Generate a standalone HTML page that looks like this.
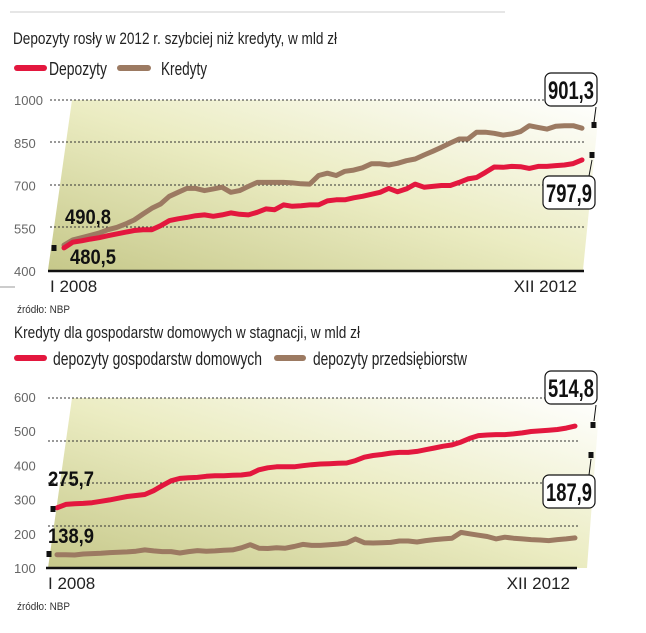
<!DOCTYPE html>
<html><head><meta charset="utf-8">
<style>
html,body{margin:0;padding:0;background:#fff;}
svg{display:block;font-family:"Liberation Sans",sans-serif;}
</style></head>
<body>
<svg id="c" width="646" height="633" viewBox="0 0 646 633">
<defs>
<linearGradient id="g" x1="0" y1="1" x2="1" y2="0">
<stop offset="0" stop-color="#c6c88a"/>
<stop offset="0.5" stop-color="#ebecc2"/>
<stop offset="1" stop-color="#ffffff"/>
</linearGradient>
</defs>
<line x1="10" y1="12" x2="505" y2="12" stroke="#ccc" stroke-width="1"/>
<text x="13" y="44" font-size="17" fill="#222" textLength="324" lengthAdjust="spacingAndGlyphs">Depozyty rosły w 2012 r. szybciej niż kredyty, w mld zł</text>
<line x1="17" y1="68" x2="44" y2="68" stroke="#e3173e" stroke-width="6" stroke-linecap="round"/>
<text x="49" y="75" font-size="18" fill="#222" textLength="58" lengthAdjust="spacingAndGlyphs">Depozyty</text>
<line x1="120" y1="68" x2="148" y2="68" stroke="#9c7a62" stroke-width="6" stroke-linecap="round"/>
<text x="161" y="75" font-size="18" fill="#222" textLength="46" lengthAdjust="spacingAndGlyphs">Kredyty</text>
<line x1="0" y1="287" x2="15" y2="287" stroke="#999" stroke-width="1"/>
<text x="17" y="313" font-size="11" fill="#333" textLength="53" lengthAdjust="spacingAndGlyphs">źródło: NBP</text>
<text x="14" y="338" font-size="17" fill="#222" textLength="346" lengthAdjust="spacingAndGlyphs">Kredyty dla gospodarstw domowych w stagnacji, w mld zł</text>
<line x1="17" y1="358" x2="44" y2="358" stroke="#e3173e" stroke-width="6" stroke-linecap="round"/>
<text x="53" y="365" font-size="18" fill="#222" textLength="209" lengthAdjust="spacingAndGlyphs">depozyty gospodarstw domowych</text>
<line x1="277" y1="358" x2="303" y2="358" stroke="#9c7a62" stroke-width="6" stroke-linecap="round"/>
<text x="313" y="365" font-size="18" fill="#222" textLength="154" lengthAdjust="spacingAndGlyphs">depozyty przedsiębiorstw</text>
<text x="17" y="610" font-size="11" fill="#333" textLength="53" lengthAdjust="spacingAndGlyphs">źródło: NBP</text>
<g id="ch1"></g>
<g id="ch2"></g>
</svg>
<script>
// Chart 1: Depozyty vs Kredyty, monthly I 2008 - XII 2012
const c1Ticks = [400, 550, 700, 850, 1000];
const c1Kredyty = [491,509,517,525,533,545,553,565,579,600,620,635,662,676,690,690,682,688,694,676,682,697,711,711,711,711,709,706,705,735,743,735,750,754,762,776,776,772,778,787,793,807,820,834,849,863,863,887,887,883,877,881,889,910,904,898,908,910,910,901];
const c1Depozyty = [481,501,506,512,517,524,530,536,542,545,545,559,577,583,588,594,597,592,597,604,599,597,606,618,615,632,627,629,632,632,646,650,650,657,662,669,676,690,678,688,705,694,697,700,700,711,723,728,746,765,764,767,766,760,767,767,770,772,777,790];
const c1Labels = ["490,8","480,5","901,3","797,9"];
// Chart 2
const c2Ticks = [100, 200, 300, 400, 500, 600];
const c2Gosp = [276,286,288,289,291,295,299,304,309,312,315,326,341,355,362,364,365,368,370,370,371,372,375,387,393,396,396,396,399,402,404,405,406,407,414,424,429,432,436,438,438,441,446,451,456,460,468,479,487,489,490,490,492,495,499,501,503,505,509,515];
const c2Przed = [139,139,138,141,142,143,145,146,147,149,153,150,148,148,144,148,151,149,150,152,153,159,168,158,157,159,158,163,169,166,166,168,170,173,185,174,173,174,175,179,179,176,180,183,185,187,204,200,196,192,185,190,187,185,183,182,180,183,185,188];
const c2Labels = ["275,7","138,9","514,8","187,9"];
const xLabels = ["I 2008","XII 2012"];

const NS="http://www.w3.org/2000/svg";
function mk(parent,tag,attrs){const e=document.createElementNS(NS,tag);for(const k in attrs)e.setAttribute(k,attrs[k]);parent.appendChild(e);return e;}

function drawChart(g,cfg){
  const ys=v=>cfg.y0-(v-cfg.vmin)*cfg.k;
  const xs=i=>cfg.x0+i*(cfg.x1-cfg.x0)/(cfg.n-1);
  const bg=mk(g,'polygon',{points:cfg.bgPts,fill:'url(#g)'});
  
  
  cfg.grid.forEach(y=>{
    const l=mk(g,'line',{x1:cfg.gx0,x2:cfg.gx1,y1:y,y2:y,stroke:'#333','stroke-width':1,'stroke-dasharray':'2,2'});
    
    
  });
  cfg.ticks.forEach(v=>{
    const t=mk(g,'text',{x:14,y:ys(v)+5,'font-size':13,fill:'#666'});
    t.textContent=v;
    
    
  });
  const base=mk(g,'line',{x1:cfg.gx0-2,x2:cfg.x1+2,y1:cfg.y0,y2:cfg.y0,stroke:'#111','stroke-width':2.5});
  
  
  const xl=mk(g,'text',{x:cfg.gx0,y:cfg.y0+21,'font-size':17,fill:'#222'});
  xl.textContent=xLabels[0];
  
  
  const xr=mk(g,'text',{x:cfg.x1-5,y:cfg.y0+21,'font-size':17,fill:'#222','text-anchor':'end'});
  xr.textContent=xLabels[1];
  
  
  cfg.series.forEach(s=>{
    const pts=s.data.map((v,i)=>xs(i).toFixed(1)+','+ys(v).toFixed(1)).join(' ');
    const p=mk(g,'polyline',{points:pts,fill:'none',stroke:s.color,'stroke-width':5,'stroke-linejoin':'round','stroke-linecap':'round'});
    
    
  });
  cfg.marks.forEach(m=>{
    const r=mk(g,'rect',{x:m.x-2.5,y:m.y-3,width:5,height:6,fill:'#111'});
    
    
  });
  cfg.startLabels.forEach(s=>{
    const t=mk(g,'text',{x:s.x,y:s.y,'font-size':21,'font-weight':'bold',fill:'#111',textLength:s.w,lengthAdjust:'spacingAndGlyphs'});
    t.textContent=s.t;
    
    
  });
  cfg.boxes.forEach(b=>{
    const ln=mk(g,'line',{x1:b.lx1,y1:b.ly1,x2:b.lx2,y2:b.ly2,stroke:'#111','stroke-width':1});
    
    
    const r=mk(g,'rect',{x:b.x,y:b.y,width:52,height:33,rx:6,fill:'#fff',stroke:'#111','stroke-width':1.2});
    
    
    const t=mk(g,'text',{x:b.x+26,y:b.y+26,'font-size':25,'font-weight':'bold',fill:'#111','text-anchor':'middle',textLength:46,lengthAdjust:'spacingAndGlyphs'});
    t.textContent=b.t;
    
    
  });
}

drawChart(document.getElementById('ch1'),{
  vmin:400,k:0.285,y0:271,x0:64,x1:582,n:c1Kredyty.length,
  gx0:50,gx1:585,grid:[100,142,185,227],ticks:c1Ticks,
  bgPts:"72,100 600,100 583,270 48,270",
  series:[{data:c1Kredyty,color:'#9c7a62',name:'line-kredyty'},{data:c1Depozyty,color:'#e3173e',name:'line-depozyty'}],
  marks:[{x:54,y:248},{x:594,y:125},{x:592,y:155}],
  startLabels:[{x:65,y:224,t:c1Labels[0],w:46},{x:70,y:264,t:c1Labels[1],w:46}],
  boxes:[{x:545,y:73,t:c1Labels[2],lx1:596,ly1:107,lx2:594,ly2:122},{x:543,y:176,t:c1Labels[3],lx1:592,ly1:160,lx2:589,ly2:176}]
});
drawChart(document.getElementById('ch2'),{
  vmin:100,k:0.342,y0:568,x0:57,x1:575,n:c2Gosp.length,
  gx0:48,gx1:580,grid:[398,441,483,526],ticks:c2Ticks,
  bgPts:"72,398 600,398 587,568 48,568",
  series:[{data:c2Gosp,color:'#e3173e',name:'line-depozyty-gosp-dom'},{data:c2Przed,color:'#9c7a62',name:'line-depozyty-przedsiebiorstw'}],
  marks:[{x:53,y:509},{x:49,y:554},{x:593,y:425},{x:591,y:455}],
  startLabels:[{x:48,y:486,t:c2Labels[0],w:46},{x:48,y:543,t:c2Labels[1],w:46}],
  boxes:[{x:545,y:371,t:c2Labels[2],lx1:596,ly1:405,lx2:594,ly2:421},{x:543,y:475,t:c2Labels[3],lx1:591,ly1:459,lx2:589,ly2:475}]
});
</script>
</body></html>
